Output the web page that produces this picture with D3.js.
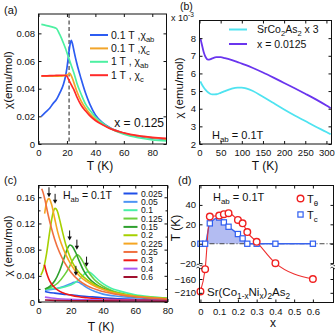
<!DOCTYPE html>
<html><head><meta charset="utf-8">
<script src="https://cdn.jsdelivr.net/npm/d3@7"></script>
<style>
html,body{margin:0;padding:0;background:#fff;}
svg{display:block;font-family:"Liberation Sans",Arial,sans-serif;}
</style></head><body>
<svg id="c" width="335" height="333"></svg>
<script>
// ---------- Panel (a) data ----------
const aT      = [2,5,8,10,12.5,15,17.5,19,20,21,22,23,24,25,27,30,33,36,40,45,50,60,70,80,90];
const aBlue   = [0.020,0.023,0.026,0.029,0.032,0.037,0.043,0.049,0.055,0.063,0.071,0.075,0.072,0.067,0.058,0.047,0.037,0.029,0.021,0.0155,0.012,0.0078,0.0055,0.0042,0.0032];
const aOrange = [0.049,0.049,0.049,0.049,0.049,0.049,0.0493,0.0497,0.050,0.0505,0.051,0.0495,0.047,0.044,0.038,0.031,0.026,0.022,0.018,0.0145,0.0115,0.0078,0.0058,0.0045,0.0035];
const aGreen  = [0.0865,0.0858,0.085,0.0845,0.0836,0.079,0.073,0.069,0.066,0.063,0.060,0.057,0.054,0.051,0.044,0.036,0.029,0.0245,0.0195,0.015,0.0115,0.007,0.0045,0.003,0.0022];
const aRed    = [0.0492,0.0493,0.0494,0.0495,0.0496,0.0497,0.0497,0.0495,0.049,0.047,0.045,0.043,0.041,0.039,0.034,0.028,0.024,0.0205,0.017,0.014,0.0113,0.008,0.006,0.0048,0.004];
const aLegend = [["0.1 T ,χ","ab"],["0.1 T ,χ","c"],["1 T , χ","ab"],["1 T , χ","c"]];
const aTn = 21.5;
const aXTicks = [0,20,40,60,80];
const aYTicks = [0,0.02,0.04,0.06,0.08];

// ---------- Panel (b) data ----------
const bT      = [2,5,10,15,20,25,30,40,50,60,75,90,100,110,125,150,175,200,225,250,275,300,310];
const bPurple = [8.0,7.7,7.2,6.9,6.78,6.8,6.85,6.92,6.92,6.87,6.77,6.64,6.56,6.47,6.32,6.05,5.76,5.46,5.16,4.85,4.53,4.18,4.03];
const bCyan   = [5.55,5.4,5.2,5.05,4.93,4.85,4.81,4.82,4.9,5.0,5.13,5.2,5.2,5.15,5.02,4.68,4.32,3.96,3.62,3.3,2.98,2.68,2.55];
const bXTicks = [0,50,100,150,200,250,300];
const bYTicks = [2,3,4,5,6,7,8];

// ---------- Panel (c) data ----------
const cLabels = ["0.025","0.05","0.1","0.125","0.15","0.2","0.225","0.25","0.3","0.4","0.6"];
const cT025 = [4,6,10,15,20,25,30,40,50,60,70,80];
const cV025 = [0.016,0.015,0.0135,0.012,0.011,0.0095,0.0085,0.0065,0.005,0.004,0.0035,0.003];
const cT05  = [4,8,12,16,20,22,23.5,25,27,30,35,40,50,60,70,80];
const cV05  = [0.018,0.019,0.021,0.024,0.028,0.030,0.031,0.030,0.027,0.022,0.016,0.012,0.0085,0.0065,0.005,0.0042];
const cT1   = [4,8,12,16,20,24,27,29,30.5,32,34,37,40,45,50,60,70,80];
const cV1   = [0.020,0.0205,0.021,0.023,0.026,0.032,0.039,0.044,0.046,0.045,0.041,0.034,0.028,0.021,0.017,0.011,0.008,0.006];
const cT125 = [4,8,12,16,19,21,23,24,25,27,30,33,36,40,45,50,60,70,80];
const cV125 = [0.020,0.023,0.029,0.041,0.053,0.063,0.070,0.072,0.071,0.064,0.050,0.039,0.031,0.024,0.018,0.014,0.009,0.0065,0.005];
const cT15  = [4,7,10,13,16,18,19.5,21,23,25,28,31,35,40,45,50,60,70,80];
const cV15  = [0.020,0.024,0.032,0.047,0.068,0.082,0.087,0.085,0.076,0.064,0.048,0.037,0.028,0.021,0.016,0.012,0.008,0.006,0.0048];
const cT2   = [1.5,3,5,7,9,10.3,11.5,13,15,17,20,23,26,30,35,40,50,60,70,80];
const cV2   = [0.041,0.05,0.074,0.108,0.136,0.143,0.140,0.127,0.106,0.087,0.066,0.052,0.043,0.034,0.026,0.02,0.013,0.009,0.007,0.0055];
const cT225 = [3.8,5,6.5,8,10,12,14,17,20,25,30,35,40,50,60,70,80];
const cV225 = [0.135,0.152,0.158,0.150,0.128,0.106,0.090,0.072,0.058,0.041,0.031,0.024,0.019,0.012,0.0085,0.0065,0.005];
const cT25  = [2,3,4,6,8,10,13,16,20,25,30,40,50,60,70,80];
const cV25  = [0.173,0.166,0.156,0.133,0.113,0.096,0.076,0.061,0.046,0.033,0.025,0.016,0.011,0.008,0.006,0.0045];
const cT3   = [3.7,4.5,5.5,7,9,12,15,20,25,30,40,50,60,80];
const cV3   = [0.057,0.049,0.041,0.032,0.025,0.018,0.014,0.0105,0.008,0.0065,0.0045,0.0035,0.003,0.0022];
const cT4   = [4,8,12,20,30,40,60,80];
const cV4   = [0.0075,0.006,0.005,0.004,0.0033,0.0028,0.0022,0.0018];
const cT6   = [4,10,20,40,60,80];
const cV6   = [0.003,0.0025,0.002,0.0017,0.0015,0.0013];
const cArrowT   = [6.5,10.3,19.3,23.8,29.8,23.2];
const cArrowChi = [0.160,0.150,0.094,0.080,0.054,0.040];
const cXTicks = [0,20,40,60,80];
const cYTicks = [0,0.04,0.08,0.12,0.16];

// ---------- Panel (d) data ----------
const dX      = [0,0.025,0.05,0.1,0.125,0.15,0.2,0.225,0.25,0.3,0.4,0.6];
const dTtheta = [-205,-40,28,29,30.5,31.5,24.5,21,12,2,-20,-160];
const dTc     = [0,0,21,27,22,17.5,10,5.5,0,0,0,0];
const dXTicks = [0,0.1,0.2,0.3,0.4,0.5,0.6];
const dYTicks = [40,20,0,-20,-160,-210];

// ---------- styles ----------
const aColors = ["#2c5cf2","#f2a52a","#4df0a2","#ff2a2a"];
const bColors = ["#4fe3f0","#6a35ee"];
const cColors = ["#1f4fe8","#4d94f5","#4af0a8","#6ccf3c","#2ea02e","#a6d000","#f5a623","#f07040","#f01818","#a85cf5","#a01030"];

const svg = d3.select("#c");
const TICKFS = 9.5;

function rich(g, x, y, parts, fs, anchor, rotate) {
  const t = g.append("text").attr("x", x).attr("y", y).attr("font-size", fs)
    .attr("text-anchor", anchor || "start").attr("fill", "#111");
  if (rotate) t.attr("transform", `rotate(${rotate},${x},${y})`);
  let shift = 0;
  parts.forEach(p => {
    const s = Array.isArray(p) ? p[0] : p, k = Array.isArray(p) ? p[1] : null;
    const target = k === "sub" ? fs * 0.3 : k === "sup" ? -fs * 0.45 : 0;
    const ts = t.append("tspan").text(s).attr("dy", target - shift);
    if (k) ts.attr("font-size", fs * 0.72);
    shift = target;
  });
  return t;
}

function frame(x, y, o) {
  const g = svg.append("g");
  const [x0, x1] = x.range(), yb = d3.max(y.range()), yt = d3.min(y.range());
  const style = s => { s.select(".domain").remove(); s.selectAll("text").attr("font-size", TICKFS).attr("fill", "#111").attr("font-family", "Liberation Sans, Arial, sans-serif"); s.selectAll("line").attr("stroke", "#111"); };
  g.append("g").attr("transform", `translate(0,${yb})`)
    .call(d3.axisBottom(x).tickValues(o.xt).tickFormat(o.xf).tickSizeInner(-3).tickSizeOuter(0).tickPadding(5.5)).call(style);
  g.append("g").attr("transform", `translate(0,${yt})`)
    .call(d3.axisTop(x).tickValues(o.xt).tickFormat("").tickSizeInner(-3).tickSizeOuter(0)).call(style);
  g.append("g").attr("transform", `translate(${x0},0)`)
    .call(d3.axisLeft(y).tickValues(o.yt).tickFormat(o.yf).tickSizeInner(-3).tickSizeOuter(0).tickPadding(3.5)).call(style);
  g.append("g").attr("transform", `translate(${x1},0)`)
    .call(d3.axisRight(y).tickValues(o.yt).tickFormat("").tickSizeInner(-3).tickSizeOuter(0)).call(style);
  if (o.ym) {
    g.append("g").attr("transform", `translate(${x0},0)`).call(d3.axisLeft(y).tickValues(o.ym).tickFormat("").tickSizeInner(-2).tickSizeOuter(0)).call(style);
    g.append("g").attr("transform", `translate(${x1},0)`).call(d3.axisRight(y).tickValues(o.ym).tickFormat("").tickSizeInner(-2).tickSizeOuter(0)).call(style);
  }
  if (o.xm) {
    g.append("g").attr("transform", `translate(0,${yb})`).call(d3.axisBottom(x).tickValues(o.xm).tickFormat("").tickSizeInner(-2).tickSizeOuter(0)).call(style);
    g.append("g").attr("transform", `translate(0,${yt})`).call(d3.axisTop(x).tickValues(o.xm).tickFormat("").tickSizeInner(-2).tickSizeOuter(0)).call(style);
  }
  g.append("rect").attr("x", x0).attr("y", yt).attr("width", x1 - x0).attr("height", yb - yt)
    .attr("fill", "none").attr("stroke", "#111").attr("stroke-width", 1);
  return g;
}

function series(g, x, y, xs, ys, color, w, clipId) {
  const line = d3.line().x(d => x(d[0])).y(d => y(d[1])).curve(d3.curveMonotoneX);
  g.append("path").datum(d3.zip(xs, ys)).attr("d", line).attr("fill", "none")
    .attr("stroke", color).attr("stroke-width", w).attr("clip-path", clipId ? `url(#${clipId})` : null);
}

function clip(id, x, y) {
  const [x0, x1] = x.range(), yb = d3.max(y.range()), yt = d3.min(y.range());
  svg.append("clipPath").attr("id", id).append("rect").attr("x", x0).attr("y", yt).attr("width", x1 - x0).attr("height", yb - yt);
}

// =============== Panel (a) ===============
{
  const x = d3.scaleLinear([0, 90], [38.5, 166.5]);
  const y = d3.scaleLinear([0, 0.094], [144, 14]);
  clip("ca", x, y);
  const g = svg.append("g");
  g.append("line").attr("x1", x(aTn)).attr("x2", x(aTn)).attr("y1", y.range()[1]).attr("y2", y.range()[0])
    .attr("stroke", "#444").attr("stroke-width", 1.2).attr("stroke-dasharray", "4,2.5");
  [aBlue, aOrange, aGreen, aRed].forEach((v, i) => series(g, x, y, aT, v, aColors[i], 1.7, "ca"));
  frame(x, y, { xt: aXTicks, xf: d3.format("d"), yt: aYTicks, yf: d => d === 0 ? "0" : d3.format(".2f")(d) });
  aLegend.forEach((l, i) => {
    const yy = 35 + i * 13.4;
    svg.append("line").attr("x1", 90).attr("x2", 108).attr("y1", yy).attr("y2", yy).attr("stroke", aColors[i]).attr("stroke-width", 2);
    rich(svg, 111, yy + 3.5, [l[0], [l[1], "sub"]], 10.5);
  });
  rich(svg, 164, 127, ["x = 0.125"], 12, "end");
  rich(svg, 4, 14, ["(a)"], 11);
  rich(svg, 12, 80, ["χ(emu/mol)"], 11.5, "middle", -90);
  rich(svg, 100, 170, ["T (K)"], 12, "middle");
}

// =============== Panel (b) ===============
{
  const x = d3.scaleLinear([0, 312], [199.5, 331.5]);
  const y = d3.scaleLinear([2, 9], [144, 20.5]);
  clip("cb", x, y);
  const g = svg.append("g");
  series(g, x, y, bT, bCyan, bColors[0], 1.8, "cb");
  series(g, x, y, bT, bPurple, bColors[1], 1.8, "cb");
  frame(x, y, { xt: bXTicks, xf: d3.format("d"), yt: bYTicks, yf: d3.format("d") });
  svg.append("line").attr("x1", 229).attr("x2", 247).attr("y1", 29.5).attr("y2", 29.5).attr("stroke", bColors[0]).attr("stroke-width", 2);
  svg.append("line").attr("x1", 229).attr("x2", 247).attr("y1", 44).attr("y2", 44).attr("stroke", bColors[1]).attr("stroke-width", 2);
  rich(svg, 257, 33, ["SrCo", ["2", "sub"], "As", ["2", "sub"], "  x 3"], 10.5);
  rich(svg, 257, 47.8, ["x = 0.0125"], 10.5);
  rich(svg, 212, 139, ["H", ["ab", "sub"], " = 0.1T"], 11);
  rich(svg, 171, 21, ["x 10", ["-3", "sup"]], 9);
  rich(svg, 180, 10, ["(b)"], 10.5);
  rich(svg, 183, 88, ["χ (emu/mol)"], 11.5, "middle", -90);
  rich(svg, 265, 170, ["T (K)"], 12, "middle");
}

// =============== Panel (c) ===============
{
  const x = d3.scaleLinear([0, 80], [38.5, 167.5]);
  const y = d3.scaleLinear([0, 0.178], [302, 185.5]);
  clip("cc", x, y);
  const g = svg.append("g");
  const cTs = [cT025, cT05, cT1, cT125, cT15, cT2, cT225, cT25, cT3, cT4, cT6];
  const cVs = [cV025, cV05, cV1, cV125, cV15, cV2, cV225, cV25, cV3, cV4, cV6];
  cTs.forEach((t, i) => series(g, x, y, t, cVs[i], cColors[i], 1.6, "cc"));
  // arrows
  d3.zip(cArrowT, cArrowChi).forEach(([t, v]) => {
    const px = x(t), py = y(v);
    g.append("line").attr("x1", px).attr("x2", px).attr("y1", py - 10).attr("y2", py - 2).attr("stroke", "#111").attr("stroke-width", 1);
    g.append("path").attr("d", `M${px - 2.2},${py - 4} L${px + 2.2},${py - 4} L${px},${py} Z`).attr("fill", "#111");
  });
  frame(x, y, { xt: cXTicks, xf: d3.format("d"), yt: cYTicks, yf: d => d === 0 ? "0" : d3.format(".2f")(d),
    ym: [0.02, 0.06, 0.10, 0.14], xm: [10, 30, 50, 70] });
  cLabels.forEach((l, i) => {
    const yy = 193.5 + i * 8.35;
    svg.append("line").attr("x1", 123.5).attr("x2", 137.5).attr("y1", yy).attr("y2", yy).attr("stroke", cColors[i]).attr("stroke-width", 2);
    rich(svg, 141, yy + 3, [l], 8.6);
  });
  rich(svg, 63, 199, ["H", ["ab", "sub"], " = 0.1T"], 10.5);
  rich(svg, 4, 184, ["(c)"], 11);
  rich(svg, 12, 246, ["χ (emu/mol)"], 11.5, "middle", -90);
  rich(svg, 101, 331, ["T (K)"], 12, "middle");
}

// =============== Panel (d) ===============
{
  const x = d3.scaleLinear([-0.005, 0.71], [199.5, 333.5]);
  const y = d3.scaleLinear([-245, -160, -25, 60], [302.5, 279, 268, 185.5]);
  clip("cd", x, y);
  const g = svg.append("g");
  const pts = dX.map((v, i) => ({ x: v, th: dTtheta[i], tc: dTc[i] }));
  const sc = pts.filter(d => d.x >= 0.025 && d.x <= 0.25);
  g.append("path").datum(sc).attr("clip-path", "url(#cd)")
    .attr("d", d3.area().x(d => x(d.x)).y0(y(0)).y1(d => y(d.tc)).curve(d3.curveMonotoneX))
    .attr("fill", "#b3bcf2");
  g.append("line").attr("x1", x.range()[0]).attr("x2", x.range()[1]).attr("y1", y(0)).attr("y2", y(0))
    .attr("stroke", "#333").attr("stroke-width", 0.9).attr("stroke-dasharray", "5,2,1,2");
  g.append("path").datum(pts).attr("clip-path", "url(#cd)")
    .attr("d", d3.line().x(d => x(d.x)).y(d => y(d.tc)).curve(d3.curveMonotoneX))
    .attr("fill", "none").attr("stroke", "#3a64ee").attr("stroke-width", 1.3);
  g.append("path").datum(pts).attr("clip-path", "url(#cd)")
    .attr("d", d3.line().x(d => x(d.x)).y(d => y(d.th)).curve(d3.curveMonotoneX))
    .attr("fill", "none").attr("stroke", "#ee3030").attr("stroke-width", 1.1);
  g.selectAll("rect.sq").data(pts).join("rect").attr("class", "sq")
    .attr("x", d => x(d.x) - 2.6).attr("y", d => y(d.tc) - 2.6).attr("width", 5.2).attr("height", 5.2)
    .attr("fill", "#fff").attr("stroke", "#2f5ef0").attr("stroke-width", 1.2);
  g.selectAll("circle.th").data(pts).join("circle").attr("class", "th")
    .attr("cx", d => x(d.x)).attr("cy", d => y(d.th)).attr("r", 3.3)
    .attr("fill", "#fff").attr("stroke", "#f02020").attr("stroke-width", 1.4);
  frame(x, y, { xt: dXTicks, xf: d => d === 0 ? "0" : d3.format(".1f")(d), yt: dYTicks, yf: d3.format("d") });
  // axis break marks
  const yBr = 266;
  [x.range()[0], x.range()[1]].forEach(px => {
    svg.append("rect").attr("x", px - 1.5).attr("y", yBr - 2).attr("width", 3).attr("height", 4).attr("fill", "#fff");
    svg.append("path").attr("d", `M${px - 3},${yBr - 1} q1.5,-2 3,0 t3,0 M${px - 3},${yBr + 2} q1.5,-2 3,0 t3,0`)
      .attr("fill", "none").attr("stroke", "#111").attr("stroke-width", 0.8);
  });
  // legend
  svg.append("circle").attr("cx", 300.5).attr("cy", 198.5).attr("r", 3.3).attr("fill", "#fff").attr("stroke", "#f02020").attr("stroke-width", 1.4);
  rich(svg, 307, 202.5, ["T", ["θ", "sub"]], 11);
  svg.append("rect").attr("x", 297.9).attr("y", 211.9).attr("width", 5.2).attr("height", 5.2).attr("fill", "#fff").attr("stroke", "#2f5ef0").attr("stroke-width", 1.2);
  rich(svg, 307, 218.5, ["T", ["c", "sub"]], 11);
  rich(svg, 213, 201, ["H", ["ab", "sub"], " = 0.1T"], 11);
  rich(svg, 207, 296, ["Sr(Co", ["1-x", "sub"], "Ni", ["x", "sub"], ")", ["2", "sub"], "As", ["2", "sub"]], 11.5);
  rich(svg, 178, 184, ["(d)"], 11);
  rich(svg, 180, 228, ["T (K)"], 12, "middle", -90);
  rich(svg, 273, 327, ["x"], 12, "middle");
}
</script>
</body></html>
